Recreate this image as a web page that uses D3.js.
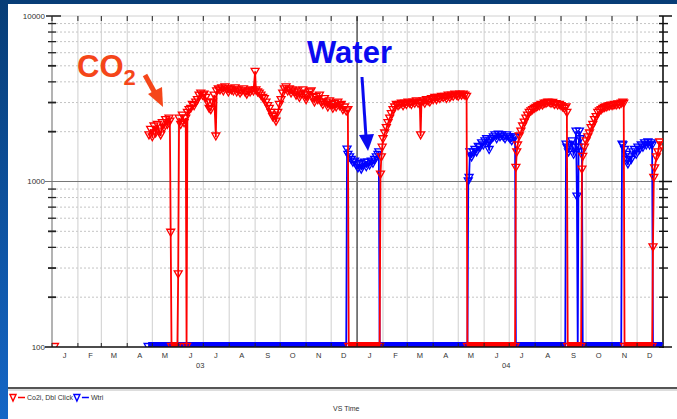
<!DOCTYPE html>
<html><head><meta charset="utf-8">
<script src="https://cdn.jsdelivr.net/npm/d3@7"></script>
<style>body{margin:0;background:#fff}svg{display:block}</style>
</head><body>
<svg id="chart" width="677" height="419"></svg>
<script>
// ---------- DATA ----------
const monthLabels = ["J","F","M","A","M","J","J","A","S","O","N","D"];
const yearLabels = ["03","04"];
const yTickValues = [100, 1000, 10000];
const yTickLabels = ["100", "1000", "10000"];
const seriesNames = ["Co2i, Dbl Click", "Wtri"];

// CO2 (red) series: [date, ppm]
const co2Dates = [
"2003-01-04","2003-01-05",
"2003-04-27","2003-04-29","2003-05-01","2003-05-03","2003-05-05","2003-05-07","2003-05-09","2003-05-11","2003-05-13","2003-05-15",
"2003-05-17","2003-05-19","2003-05-21","2003-05-22","2003-05-23","2003-05-24","2003-05-31","2003-06-01","2003-06-02","2003-06-04",
"2003-06-06","2003-06-08","2003-06-10","2003-06-11","2003-06-12","2003-06-14","2003-06-16","2003-06-18","2003-06-20","2003-06-22",
"2003-06-24","2003-06-26","2003-06-28","2003-06-30","2003-07-02","2003-07-04","2003-07-06","2003-07-08","2003-07-10","2003-07-12",
"2003-07-14","2003-07-16","2003-07-17","2003-07-19","2003-07-21","2003-07-23","2003-07-25","2003-07-27","2003-07-29","2003-07-31",
"2003-08-02","2003-08-04","2003-08-06","2003-08-08","2003-08-10","2003-08-12","2003-08-14","2003-08-16","2003-08-18","2003-08-20",
"2003-08-22","2003-08-24","2003-08-26","2003-08-28","2003-08-30","2003-09-01","2003-09-02","2003-09-04","2003-09-06","2003-09-08",
"2003-09-10","2003-09-12","2003-09-14","2003-09-16","2003-09-18","2003-09-20","2003-09-22","2003-09-24","2003-09-26","2003-09-28",
"2003-09-30","2003-10-02","2003-10-04","2003-10-06","2003-10-08","2003-10-10","2003-10-12","2003-10-14","2003-10-16","2003-10-18",
"2003-10-20","2003-10-22","2003-10-24","2003-10-26","2003-10-28","2003-10-30","2003-11-01","2003-11-03","2003-11-05","2003-11-07",
"2003-11-09","2003-11-11","2003-11-13","2003-11-15","2003-11-17","2003-11-19","2003-11-21","2003-11-23","2003-11-25","2003-11-27",
"2003-11-29","2003-12-01","2003-12-03","2003-12-05","2003-12-07","2003-12-09","2003-12-11","2003-12-13","2003-12-15","2003-12-17",
"2003-12-19","2003-12-21","2003-12-22","2004-01-28",
"2004-01-29","2004-01-30","2004-01-31","2004-02-01","2004-02-03","2004-02-05","2004-02-07","2004-02-09","2004-02-11","2004-02-13",
"2004-02-15","2004-02-17","2004-02-19","2004-02-21","2004-02-23","2004-02-25","2004-02-27","2004-02-29","2004-03-02","2004-03-04",
"2004-03-06","2004-03-08","2004-03-10","2004-03-12","2004-03-14","2004-03-16","2004-03-17","2004-03-18","2004-03-20","2004-03-22",
"2004-03-24","2004-03-26","2004-03-28","2004-03-30","2004-04-01","2004-04-03","2004-04-05","2004-04-07","2004-04-09","2004-04-11",
"2004-04-13","2004-04-15","2004-04-17","2004-04-19","2004-04-21","2004-04-23","2004-04-25","2004-04-27","2004-04-29","2004-05-01",
"2004-05-03","2004-05-05","2004-05-07","2004-05-09","2004-05-11","2004-05-12","2004-07-08",
"2004-07-09","2004-07-10","2004-07-11","2004-07-13","2004-07-15","2004-07-17","2004-07-19","2004-07-21","2004-07-23","2004-07-25",
"2004-07-27","2004-07-29","2004-07-31","2004-08-02","2004-08-04","2004-08-06","2004-08-08","2004-08-10","2004-08-12","2004-08-14",
"2004-08-16","2004-08-18","2004-08-20","2004-08-22","2004-08-24","2004-08-26","2004-08-28","2004-08-30","2004-09-01","2004-09-03",
"2004-09-05","2004-09-07","2004-09-08","2004-09-09","2004-09-25",
"2004-09-26","2004-09-27","2004-09-29","2004-10-01","2004-10-03","2004-10-05","2004-10-07","2004-10-09","2004-10-11","2004-10-13",
"2004-10-15","2004-10-17","2004-10-19","2004-10-21","2004-10-23","2004-10-25","2004-10-27","2004-10-29","2004-10-31","2004-11-02",
"2004-11-04","2004-11-06","2004-11-08","2004-11-10","2004-11-12","2004-11-14","2004-11-15","2004-11-16","2004-12-19",
"2004-12-20","2004-12-21","2004-12-22","2004-12-24","2004-12-26","2004-12-28","2004-12-30"
];
const co2Values = [
100,null,
1900,2050,1850,2150,1950,2200,2000,1900,2250,2100,
2350,2200,2400,2300,490,100,100,275,2400,2200,
2500,2250,2400,100,2600,2700,2750,2900,2850,3000,
3100,3300,3400,3300,3350,3200,3000,2750,2700,3000,
3300,1870,3500,3600,3550,3650,3500,3700,3600,3450,
3600,3550,3500,3650,3450,3550,3400,3500,3600,3450,
3350,3500,3450,3550,3500,4600,3550,3450,3400,3300,
3200,3150,3000,2850,2750,2600,2450,2500,2300,2600,
2900,3100,3400,3600,3700,3500,3600,3400,3550,3450,
3300,3500,3200,3400,3550,3350,3100,3300,3450,3500,
3200,3000,3250,3100,3300,3000,2900,3150,3000,2800,
3050,2900,2750,2950,2800,3000,2850,2900,2700,2800,
2650,2700,100,100,
1100,1400,1600,1800,1950,2100,2250,2400,2550,2700,
2800,2900,2850,2900,2950,2850,2950,2900,3000,2950,
2900,3000,2950,3050,2950,3000,1900,3000,3050,2950,
3100,3050,3000,3150,3100,3200,3100,3200,3150,3250,
3200,3250,3150,3300,3200,3300,3250,3350,3300,3250,
3350,3300,3350,3300,3250,100,100,
1210,1500,1650,1870,2000,2150,2270,2400,2500,2600,
2650,2700,2750,2780,2830,2850,2900,2880,2950,2950,
3000,2990,2950,2980,2900,2930,2880,2900,2850,2800,
2750,2800,2600,100,100,
1180,1410,1600,1750,1850,1950,2100,2200,2350,2450,
2600,2650,2700,2750,2780,2800,2830,2850,2870,2860,
2900,2880,2920,2900,2950,3000,2950,100,100,
400,1050,1200,1400,1500,1720,1650
];

// Water (blue) series: [date, value]
const waterDates = [
"2003-04-26","2003-12-19",
"2003-12-20","2003-12-21","2003-12-23","2003-12-25","2003-12-27","2003-12-29","2003-12-31","2004-01-02","2004-01-04","2004-01-06",
"2004-01-08","2004-01-10","2004-01-12","2004-01-14","2004-01-16","2004-01-18","2004-01-20","2004-01-22","2004-01-24","2004-01-26",
"2004-01-27","2004-01-28","2004-05-12",
"2004-05-13","2004-05-14","2004-05-15","2004-05-17","2004-05-19","2004-05-21","2004-05-23","2004-05-25","2004-05-27","2004-05-29",
"2004-05-31","2004-06-02","2004-06-04","2004-06-06","2004-06-07","2004-06-08","2004-06-10","2004-06-12","2004-06-14","2004-06-16",
"2004-06-18","2004-06-20","2004-06-22","2004-06-24","2004-06-26","2004-06-28","2004-06-30","2004-07-02","2004-07-04","2004-07-06",
"2004-07-08","2004-07-09","2004-09-06",
"2004-09-07","2004-09-08","2004-09-10","2004-09-12","2004-09-14","2004-09-16","2004-09-18","2004-09-19","2004-09-20","2004-09-21",
"2004-09-22","2004-09-23","2004-09-24","2004-09-26","2004-09-27","2004-11-12",
"2004-11-13","2004-11-14","2004-11-16","2004-11-18","2004-11-19","2004-11-20","2004-11-22","2004-11-24","2004-11-26","2004-11-28",
"2004-11-30","2004-12-02","2004-12-04","2004-12-06","2004-12-08","2004-12-10","2004-12-12","2004-12-14","2004-12-16","2004-12-18",
"2004-12-19","2004-12-20","2004-12-31"
];
const waterValues = [
100,100,
1560,1450,1400,1350,1300,1320,1250,1200,1280,1180,
1250,1300,1220,1300,1250,1320,1280,1350,1400,1450,
1500,100,100,
1000,1050,1500,1400,1500,1550,1500,1620,1600,1700,
1650,1750,1800,1700,1550,1750,1800,1850,1900,1800,
1920,1850,1900,1850,1800,1900,1850,1800,1750,1850,
1840,100,100,
1670,1600,1500,1650,1750,1450,1600,2000,810,100,
1600,2000,1800,1500,100,100,
1670,1650,1550,1450,1350,1270,1400,1350,1500,1550,
1450,1600,1550,1650,1600,1700,1650,1720,1650,1700,
1650,100,100
];

// ---------- LAYOUT ----------
const W = 677, H = 419;
const svg = d3.select("#chart");
const parse = d3.timeParse("%Y-%m-%d");

const x = d3.scaleTime().domain([new Date(2003,0,1), new Date(2005,0,1)]).range([52, 663]);
const y = d3.scaleLog().domain([100, 10000]).range([347, 16]);

// slide background
const defs = svg.append("defs");
const grad = defs.append("linearGradient").attr("id","bg").attr("x1",0).attr("y1",0).attr("x2",0).attr("y2",1);
grad.append("stop").attr("offset","0%").attr("stop-color","#073d76");
grad.append("stop").attr("offset","100%").attr("stop-color","#1466c6");
svg.append("rect").attr("width",W).attr("height",H).attr("fill","url(#bg)");
svg.append("rect").attr("x",8).attr("y",4).attr("width",W-8).attr("height",H-4).attr("fill","#fff");

defs.append("clipPath").attr("id","plotclip").append("rect")
  .attr("x",52).attr("y",16).attr("width",611).attr("height",331);

const [y0, y1] = y.range();
const [x0, x1] = x.range();

const minorVals = [];
[100,1000].forEach(b => { for (let k=2;k<=9;k++) minorVals.push(b*k); });

// dotted horizontal gridlines
svg.append("g").selectAll("line").data(minorVals).join("line")
  .attr("x1",x0).attr("x2",x1).attr("y1",d=>y(d)).attr("y2",d=>y(d))
  .attr("stroke","#c4c4c4").attr("stroke-width",1).attr("stroke-dasharray","2,2");

// vertical month gridlines
const months = d3.timeMonth.range(x.domain()[0], x.domain()[1]);
svg.append("g").selectAll("line").data(months).join("line")
  .attr("x1",d=>x(d)).attr("x2",d=>x(d)).attr("y1",y1).attr("y2",y0)
  .attr("stroke",d=> d.getMonth()===0 ? (d.getFullYear()===2004 ? "#555" : "#9a9a9a") : "#cfcfcf")
  .attr("stroke-width",d=> d.getMonth()===0 ? 1.5 : 1);

svg.append("line").attr("x1",x0).attr("x2",x1).attr("y1",y1).attr("y2",y1)
  .attr("stroke","#d0d0d0").attr("stroke-width",1);

svg.append("line").attr("x1",45).attr("x2",670).attr("y1",y(1000)).attr("y2",y(1000))
  .attr("stroke","#777").attr("stroke-width",1.2);

// left axis ticks
svg.append("g").selectAll("line").data(minorVals).join("line")
  .attr("x1",48).attr("x2",56).attr("y1",d=>y(d)).attr("y2",d=>y(d))
  .attr("stroke","#222").attr("stroke-width",d=>[200,300,500,2000,3000,5000].includes(d)?1.8:1.3);
svg.append("line").attr("x1",46).attr("x2",61).attr("y1",y(10000)).attr("y2",y(10000)).attr("stroke","#222").attr("stroke-width",1.5);

// right axis
svg.append("line").attr("x1",x1).attr("x2",x1).attr("y1",y1).attr("y2",y0+1).attr("stroke","#111").attr("stroke-width",1.6);
svg.append("g").selectAll("line").data(minorVals).join("line")
  .attr("x1",x1-4).attr("x2",x1+5).attr("y1",d=>y(d)).attr("y2",d=>y(d))
  .attr("stroke","#111").attr("stroke-width",1.4);
svg.append("g").selectAll("line").data(yTickValues).join("line")
  .attr("x1",x1-4).attr("x2",x1+9).attr("y1",d=>y(d)).attr("y2",d=>y(d))
  .attr("stroke","#111").attr("stroke-width",1.5);

// top month ticks
svg.append("g").selectAll("line").data(months).join("line")
  .attr("x1",d=>x(d)).attr("x2",d=>x(d)).attr("y1",y1).attr("y2",y1+5)
  .attr("stroke","#222").attr("stroke-width",1);

// y labels
svg.append("g").selectAll("text").data(yTickValues).join("text")
  .attr("x",45).attr("y",d=>y(d)+2.5).attr("text-anchor","end")
  .attr("font-family","Liberation Sans, Arial, sans-serif").attr("font-size",8).attr("fill","#333")
  .text((d,i)=>yTickLabels[i]);

// ---------- SERIES ----------
const co2 = co2Dates.map((d,i)=>({t:parse(d), v:co2Values[i]}));
const water = waterDates.map((d,i)=>({t:parse(d), v:waterValues[i]}));

const line = d3.line().defined(d=>d.v!=null).x(d=>x(d.t)).y(d=>y(d.v));
const plot = svg.append("g").attr("clip-path","url(#plotclip)");

function floorSegments(data){
  const segs=[];
  for (let i=0;i<data.length-1;i++){
    if (data[i].v===100 && data[i+1].v===100) segs.push([data[i],data[i+1]]);
  }
  return segs;
}
const tri = "M-4,-3.5L4,-3.5L0,3.5Z";

function drawSeries(data,color){
  const g = plot.append("g");
  g.selectAll("path.floor").data(floorSegments(data)).join("path")
    .attr("class","floor").attr("d",line).attr("fill","none")
    .attr("stroke",color).attr("stroke-width",10);
  g.append("path").datum(data).attr("d",line).attr("fill","none")
    .attr("stroke",color).attr("stroke-width",1.8).attr("stroke-linejoin","round");
  g.selectAll("path.mk").data(data.filter(d=>d.v!=null)).join("path")
    .attr("class","mk").attr("d",tri)
    .attr("transform",d=>`translate(${x(d.t)},${y(d.v)})`)
    .attr("fill","none").attr("stroke",color).attr("stroke-width",1.3);
}
drawSeries(water,"#0000ff");
drawSeries(co2,"#ff0000");

// bottom axis
svg.append("line").attr("x1",45).attr("x2",x1+1).attr("y1",y0).attr("y2",y0).attr("stroke","#111").attr("stroke-width",1.6);
svg.append("g").selectAll("line").data(months).join("line")
  .attr("x1",d=>x(d)).attr("x2",d=>x(d)).attr("y1",y0-4).attr("y2",y0)
  .attr("stroke","#222").attr("stroke-width",1);

svg.append("g").selectAll("text").data(months).join("text")
  .attr("x",d=>x(d3.timeDay.offset(d,15))).attr("y",358).attr("text-anchor","middle")
  .attr("font-family","Liberation Sans, Arial, sans-serif").attr("font-size",7.5).attr("fill","#333")
  .text(d=>monthLabels[d.getMonth()]);
svg.append("g").selectAll("text").data(yearLabels).join("text")
  .attr("x",(d,i)=>x(new Date(2003+i,6,1))-3).attr("y",368).attr("text-anchor","middle")
  .attr("font-family","Liberation Sans, Arial, sans-serif").attr("font-size",7.5).attr("fill","#333")
  .text(d=>d);

// separator
svg.append("line").attr("x1",8).attr("x2",W).attr("y1",388).attr("y2",388).attr("stroke","#555").attr("stroke-width",2);
svg.append("line").attr("x1",8).attr("x2",W).attr("y1",390).attr("y2",390).attr("stroke","#bbb").attr("stroke-width",1);

// legend
const leg = svg.append("g").attr("font-family","Liberation Sans, Arial, sans-serif").attr("font-size",7).attr("fill","#333");
const legColors = ["#ff0000","#0000ff"];
let lx = 10;
seriesNames.forEach((name,i)=>{
  leg.append("path").attr("d","M-3,-3.5L3,-3.5L0,3Z").attr("transform",`translate(${lx+3},398)`)
    .attr("fill","none").attr("stroke",legColors[i]).attr("stroke-width",1.4);
  leg.append("line").attr("x1",lx+8).attr("x2",lx+15).attr("y1",397.5).attr("y2",397.5).attr("stroke",legColors[i]).attr("stroke-width",1.5);
  const t = leg.append("text").attr("x",lx+17).attr("y",400).text(name);
  lx = lx + 17 + t.node().getComputedTextLength() + 1;
});
svg.append("text").attr("x",333).attr("y",411).attr("font-family","Liberation Sans, Arial, sans-serif")
  .attr("font-size",7).attr("fill","#333").text("VS Time");

// ---------- ANNOTATIONS ----------
const co2Label = svg.append("text").attr("x",77).attr("y",77)
  .attr("font-family","Liberation Sans, Arial, sans-serif").attr("font-weight","bold")
  .attr("font-size",31).attr("fill","#f5461a");
co2Label.append("tspan").text("CO");
co2Label.append("tspan").attr("font-size",22).attr("dy",8).text("2");

svg.append("line").attr("x1",145).attr("y1",75).attr("x2",156).attr("y2",95)
  .attr("stroke","#f5461a").attr("stroke-width",5);
svg.append("path").attr("d","M163,107 L148,94 L162,87 Z").attr("fill","#f5461a");

svg.append("text").attr("x",307).attr("y",63)
  .attr("font-family","Liberation Sans, Arial, sans-serif").attr("font-weight","bold")
  .attr("font-size",31).attr("fill","#0a0af0").text("Water");
svg.append("line").attr("x1",362).attr("y1",77).attr("x2",366).attr("y2",137)
  .attr("stroke","#0a0af0").attr("stroke-width",3);
svg.append("path").attr("d","M368,151 L359,135 L374,134 Z").attr("fill","#0a0af0");
</script>
</body></html>
